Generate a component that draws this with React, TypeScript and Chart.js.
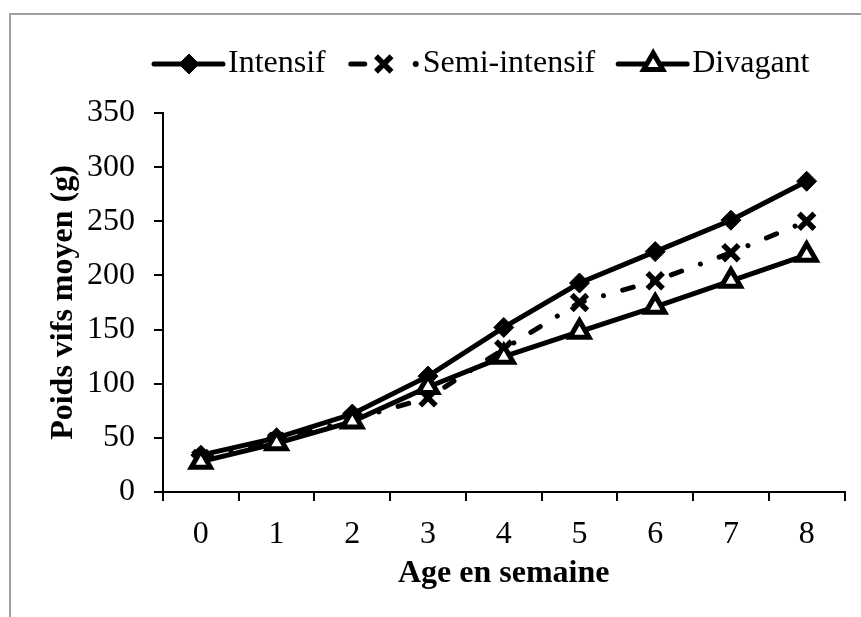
import React, { useEffect, useRef } from 'react';
import { Chart, registerables } from 'chart.js';
import { drawPoint } from 'chart.js/helpers';

Chart.register(...registerables);

const categories = ['0', '1', '2', '3', '4', '5', '6', '7', '8'];
const intensif = [34, 50, 72, 107, 152, 193, 222, 251, 287];
const semiIntensif = [31, 47, 67, 87, 132, 175, 195, 221, 250];
const divagant = [28, 45, 65, 97, 125, 148, 171, 195, 219];
const seriesLabels = ['Intensif', 'Semi-intensif', 'Divagant'];
const yMin = 0;
const yMax = 350;
const yStep = 50;
const xTitle = 'Age en semaine';
const yTitle = 'Poids vifs moyen (g)';

const FONT = "'Liberation Serif', 'Times New Roman', serif";
const W = 861;
const H = 617;

const legendPlugin = {
  id: 'lineLegend',
  afterDraw(chart: any) {
    const ctx: CanvasRenderingContext2D = chart.ctx;
    const y = 64;
    let marker = 189;
    ctx.save();
    ctx.font = `32px ${FONT}`;
    chart.data.datasets.forEach((ds: any) => {
      ctx.save();
      ctx.strokeStyle = ds.borderColor;
      ctx.lineWidth = ds.borderWidth;
      ctx.lineCap = 'round';
      if (ds.borderDash && ds.borderDash.length) {
        ctx.beginPath();
        ctx.moveTo(marker - 33, y);
        ctx.lineTo(marker - 19, y);
        ctx.stroke();
        ctx.beginPath();
        ctx.arc(marker + 32, y, ds.borderWidth / 2 + 0.5, 0, Math.PI * 2);
        ctx.fillStyle = ds.borderColor;
        ctx.fill();
      } else {
        ctx.beginPath();
        ctx.moveTo(marker - 35, y);
        ctx.lineTo(marker + 34, y);
        ctx.stroke();
      }
      ctx.fillStyle = ds.pointBackgroundColor;
      ctx.strokeStyle = ds.pointBorderColor;
      ctx.lineWidth = ds.pointBorderWidth;
      ctx.lineCap = 'butt';
      drawPoint(ctx, {
        pointStyle: ds.pointStyle,
        radius: ds.pointRadius,
        borderWidth: ds.pointBorderWidth,
        rotation: 0,
      } as any, marker, y);
      ctx.restore();
      ctx.fillStyle = '#000';
      ctx.textBaseline = 'middle';
      ctx.textAlign = 'left';
      const tx = marker + 39;
      ctx.fillText(ds.label, tx, y);
      marker = tx + ctx.measureText(ds.label).width + 58;
    });
    ctx.restore();
  },
};

export default function App() {
  const ref = useRef<HTMLCanvasElement | null>(null);

  useEffect(() => {
    if (!ref.current) return;
    const chart = new Chart(ref.current, {
      type: 'line',
      data: {
        labels: categories,
        datasets: [
          {
            label: seriesLabels[0],
            data: intensif,
            borderColor: '#000',
            borderWidth: 5,
            pointStyle: 'rectRot',
            pointRadius: 10,
            pointBackgroundColor: '#000',
            pointBorderColor: '#000',
            pointBorderWidth: 1,
            tension: 0,
            order: 2,
          } as any,
          {
            label: seriesLabels[1],
            data: semiIntensif,
            borderColor: '#000',
            borderWidth: 5,
            borderDash: [11, 20, 0.01, 20],
            borderCapStyle: 'round',
            pointStyle: 'crossRot',
            pointRadius: 11,
            pointBackgroundColor: '#000',
            pointBorderColor: '#000',
            pointBorderWidth: 5.5,
            tension: 0,
            order: 1,
          },
          {
            label: seriesLabels[2],
            data: divagant,
            borderColor: '#000',
            borderWidth: 5,
            pointStyle: 'triangle',
            pointRadius: 11,
            pointBackgroundColor: '#fff',
            pointBorderColor: '#000',
            pointBorderWidth: 5,
            tension: 0,
            order: 0,
          },
        ],
      },
      options: {
        animation: false,
        responsive: false,
        devicePixelRatio: 1,
        layout: { padding: { top: 113, right: 14, bottom: 0, left: 0 } },
        plugins: {
          legend: { display: false },
          tooltip: { enabled: false },
        },
        scales: {
          x: {
            type: 'category',
            offset: true,
            grid: {
              offset: true,
              drawOnChartArea: false,
              drawTicks: true,
              tickLength: 9,
              color: '#000',
              lineWidth: 2,
            },
            border: { display: true, color: '#000', width: 2 },
            ticks: {
              color: '#000',
              font: { family: FONT, size: 32 },
              padding: 14,
              maxRotation: 0,
            },
            title: {
              display: true,
              text: xTitle,
              color: '#000',
              font: { family: FONT, size: 32, weight: 'bold' },
              padding: { top: 24, bottom: 24 },
            },
            afterFit: (s: any) => {
              s.height = H - 492;
            },
          },
          y: {
            min: yMin,
            max: yMax,
            grid: {
              drawOnChartArea: false,
              drawTicks: true,
              tickLength: 9,
              color: '#000',
              lineWidth: 2,
            },
            border: { display: true, color: '#000', width: 2 },
            ticks: {
              stepSize: yStep,
              color: '#000',
              font: { family: FONT, size: 32 },
              padding: 19,
            },
            title: {
              display: true,
              text: yTitle,
              color: '#000',
              font: { family: FONT, size: 32, weight: 'bold' },
              padding: { top: 45, bottom: 0 },
            },
            afterFit: (s: any) => {
              s.width = 163;
            },
          },
        },
      },
      plugins: [legendPlugin],
    });
    return () => chart.destroy();
  }, []);

  return (
    <div style={{ position: 'absolute', left: 0, top: 0, width: W, height: H, background: '#fff' }}>
      <canvas ref={ref} width={W} height={H} style={{ display: 'block', width: W, height: H }} />
      <div
        style={{
          position: 'absolute',
          left: 9,
          top: 13,
          width: W - 9,
          height: H - 13,
          borderTop: '2px solid #a0a0a0',
          borderLeft: '2px solid #a0a0a0',
          boxSizing: 'border-box',
          pointerEvents: 'none',
        }}
      />
    </div>
  );
}
